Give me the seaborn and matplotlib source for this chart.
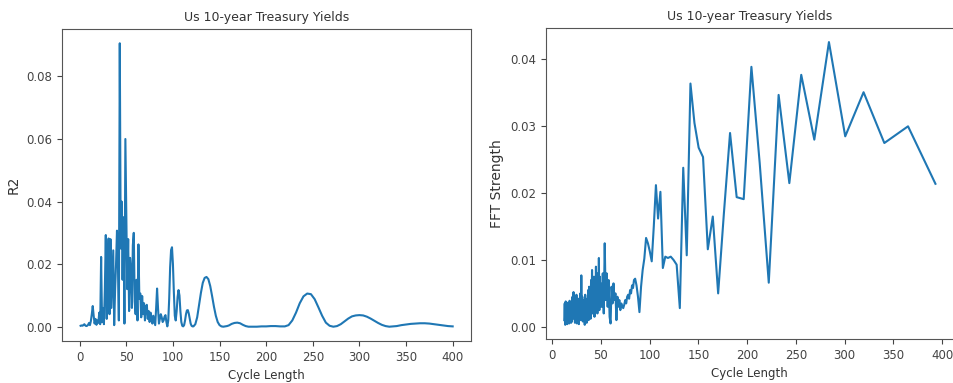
import matplotlib
matplotlib.use("Agg")
import matplotlib.pyplot as plt
import seaborn as sns
import pandas as pd

TITLE = "Us 10-year Treasury Yields"

# Left panel: R2 of a fitted sine wave for each cycle length
r2_cycle = list(range(1, 123)) + [
    124, 126, 128, 130, 132, 134, 136, 138, 140, 142, 144, 146, 148, 150,
    152, 154, 156, 158, 160, 163, 166, 169, 172, 175, 178, 181, 185, 190,
    195, 200, 205, 210, 215, 220, 224, 228, 232, 236, 240, 244, 248, 252,
    256, 260, 264, 268, 272, 276, 280, 284, 288, 292, 296, 300, 304, 308,
    312, 316, 320, 324, 328, 332, 336, 340, 345, 350, 355, 360, 365, 370,
    375, 380, 385, 390, 395, 400]
r2_value = [
    0.0003, 0.0004, 0.0003, 0.0005, 0.0008, 0.0004, 0.0002, 0.0003, 0.0006, 0.0012,
    0.0005, 0.0018, 0.0040, 0.0066, 0.0035, 0.0010, 0.0025, 0.0006, 0.0020, 0.0012,
    0.0045, 0.0008, 0.0223, 0.0015, 0.0060, 0.0008, 0.0120, 0.0293, 0.0025, 0.0180,
    0.0282, 0.0040, 0.0280, 0.0060, 0.0150, 0.0244, 0.0005, 0.0120, 0.0200, 0.0307,
    0.0210, 0.0020, 0.0906, 0.0250, 0.0400, 0.0150, 0.0350, 0.0010, 0.0600, 0.0360,
    0.0120, 0.0280, 0.0050, 0.0220, 0.0180, 0.0060, 0.0260, 0.0300, 0.0080, 0.0040,
    0.0150, 0.0020, 0.0263, 0.0090, 0.0106, 0.0030, 0.0098, 0.0040, 0.0075, 0.0020,
    0.0065, 0.0070, 0.0025, 0.0050, 0.0015, 0.0045, 0.0030, 0.0010, 0.0035, 0.0020,
    0.0005, 0.0060, 0.0122, 0.0060, 0.0010, 0.0025, 0.0040, 0.0030, 0.0015, 0.0020,
    0.0032, 0.0037, 0.0015, 0.0001, 0.0020, 0.0090, 0.0190, 0.0245, 0.0254, 0.0200,
    0.0110, 0.0035, 0.0020, 0.0050, 0.0095, 0.0117, 0.0100, 0.0050, 0.0015, 0.0003,
    0.0001, 0.0005, 0.0020, 0.0040, 0.0052, 0.0053, 0.0042, 0.0025, 0.0010, 0.0003,
    0.0001, 0.0001,
    0.0008, 0.0030, 0.0068, 0.0108, 0.0140, 0.0156, 0.0159, 0.0152, 0.0130, 0.0098,
    0.0064, 0.0035, 0.0015, 0.0005, 0.0001, 0.0000, 0.0001, 0.0002, 0.0004, 0.0009,
    0.0012, 0.0013, 0.0011, 0.0006, 0.0002, 0.0000, 0.0000, 0.0000, 0.0001, 0.0001,
    0.0002, 0.0002, 0.0001, 0.0001, 0.0005, 0.0020, 0.0045, 0.0075, 0.0097, 0.0106,
    0.0104, 0.0088, 0.0062, 0.0035, 0.0013, 0.0003, 0.0000, 0.0002, 0.0008, 0.0017,
    0.0026, 0.0033, 0.0036, 0.0037, 0.0036, 0.0032, 0.0026, 0.0019, 0.0012, 0.0006,
    0.0002, 0.0000, 0.0001, 0.0002, 0.0005, 0.0007, 0.0009, 0.0010, 0.0011, 0.0011,
    0.0010, 0.0008, 0.0006, 0.0004, 0.0002, 0.0001]

# Right panel: FFT magnitude by cycle length
fft_cycle = [
    12.5, 13.0, 13.5, 14.0, 14.5, 15.0, 15.5, 16.0, 16.5, 17.0,
    17.5, 18.0, 18.5, 19.0, 19.5, 20.0, 20.5, 21.0, 21.5, 22.0,
    22.5, 23.0, 23.5, 24.0, 24.5, 25.0, 25.5, 26.0, 26.5, 27.0,
    27.5, 28.0, 28.5, 29.0, 29.5, 30.0, 30.5, 31.0, 31.5, 32.0,
    32.5, 33.0, 33.5, 34.0, 34.5, 35.0, 35.5, 36.0, 36.5, 37.0,
    37.5, 38.0, 38.5, 39.0, 39.5, 40.0, 40.5, 41.0, 41.5, 42.0,
    42.5, 43.0, 43.5, 44.0, 44.5, 45.0, 45.5, 46.0, 46.5, 47.0,
    47.5, 48.0, 48.5, 49.0, 49.5,
    50, 51, 52, 53, 54, 55, 56, 57, 58, 59, 60, 61, 62, 63, 64, 65, 66, 67,
    68, 69, 70, 71, 72, 73, 74, 75, 76, 77, 78, 79, 80, 81, 82, 83, 84,
    85.2, 86.6, 88.1, 89.6, 91.25, 92.9, 94.6, 96.4, 98.3, 100.2, 102.2,
    104.3, 106.5, 108.7, 111.1, 113.6, 116.1, 118.8, 121.7, 124.6, 127.75,
    131.0, 134.5, 138.1, 141.9, 146.0, 150.3, 154.8, 159.7, 164.8, 170.3,
    176.2, 182.5, 189.3, 196.5, 204.4, 212.9, 222.2, 232.3, 243.3, 255.5,
    268.9, 283.9, 300.6, 319.4, 340.7, 365.0, 393.1]
fft_strength = [
    0.0010, 0.0035, 0.0003, 0.0038, 0.0008, 0.0030, 0.0004, 0.0036, 0.0012, 0.0028,
    0.0005, 0.0039, 0.0010, 0.0025, 0.0006, 0.0034, 0.0008, 0.0045, 0.0012, 0.0052,
    0.0015, 0.0040, 0.0006, 0.0035, 0.0010, 0.0048, 0.0005, 0.0030, 0.0012, 0.0042,
    0.0004, 0.0036, 0.0015, 0.0050, 0.0010, 0.0077, 0.0020, 0.0045, 0.0008, 0.0040,
    0.0012, 0.0030, 0.0003, 0.0048, 0.0015, 0.0035, 0.0006, 0.0042, 0.0020, 0.0055,
    0.0010, 0.0060, 0.0018, 0.0045, 0.0012, 0.0070, 0.0025, 0.0085, 0.0020, 0.0060,
    0.0035, 0.0075, 0.0015, 0.0065, 0.0030, 0.0090, 0.0040, 0.0070, 0.0020, 0.0080,
    0.0035, 0.0103, 0.0025, 0.0075, 0.0030,
    0.0065, 0.0030, 0.0080, 0.0020, 0.0125, 0.0040, 0.0080, 0.0030, 0.0070, 0.0015,
    0.0005, 0.0060, 0.0035, 0.0065, 0.0040, 0.0050, 0.0010, 0.0045, 0.0030, 0.0040,
    0.0025, 0.0035, 0.0030, 0.0028, 0.0033, 0.0040, 0.0035, 0.0045, 0.0048, 0.0042,
    0.0055, 0.0050, 0.0062, 0.0058, 0.0070,
    0.0072, 0.0062, 0.0045, 0.0022, 0.0060, 0.0085, 0.0102, 0.0133, 0.0125, 0.0113,
    0.0098, 0.0150, 0.0212, 0.0162, 0.0202, 0.0088, 0.0105, 0.0103, 0.0105, 0.0100,
    0.0093, 0.0028, 0.0238, 0.0107, 0.0364, 0.0305, 0.0268, 0.0254, 0.0116, 0.0165,
    0.0050, 0.0170, 0.0290, 0.0194, 0.0191, 0.0389, 0.0245, 0.0066, 0.0347, 0.0215,
    0.0377, 0.0280, 0.0426, 0.0285, 0.0351, 0.0275, 0.0300, 0.0214]

r2_df = pd.DataFrame({"Cycle Length": r2_cycle, "R2": r2_value})
fft_df = pd.DataFrame({"Cycle Length": fft_cycle, "FFT Strength": fft_strength})

plt.rcParams["font.family"] = ["DejaVu Sans"]
fig = plt.figure(figsize=(9.54, 3.83), dpi=100)
ax1 = fig.add_axes([0.065, 0.110, 0.429, 0.814])
ax2 = fig.add_axes([0.572, 0.115, 0.428, 0.812])

blue = "#1f77b4"
sns.lineplot(data=r2_df, x="Cycle Length", y="R2", ax=ax1, color=blue, linewidth=1.5)
sns.lineplot(data=fft_df, x="Cycle Length", y="FFT Strength", ax=ax2, color=blue, linewidth=1.5)

for ax, ylab in ((ax1, "R2"), (ax2, "FFT Strength")):
    ax.set_title(TITLE, fontsize=9, color="#333333")
    ax.set_xlabel("Cycle Length", fontsize=8.5, color="#333333")
    ax.set_ylabel(ylab, fontsize=10, color="#333333")
    ax.tick_params(labelsize=8.5, colors="#444444", length=3.5)
    for s in ax.spines.values():
        s.set_color("#555555")
    ax.set_xticks([0, 50, 100, 150, 200, 250, 300, 350, 400])

ax1.set_yticks([0.00, 0.02, 0.04, 0.06, 0.08])
ax2.set_yticks([0.00, 0.01, 0.02, 0.03, 0.04])
ax1.yaxis.set_major_formatter(matplotlib.ticker.FormatStrFormatter("%.2f"))
ax2.yaxis.set_major_formatter(matplotlib.ticker.FormatStrFormatter("%.2f"))

fig.savefig("out.png", dpi=100)
